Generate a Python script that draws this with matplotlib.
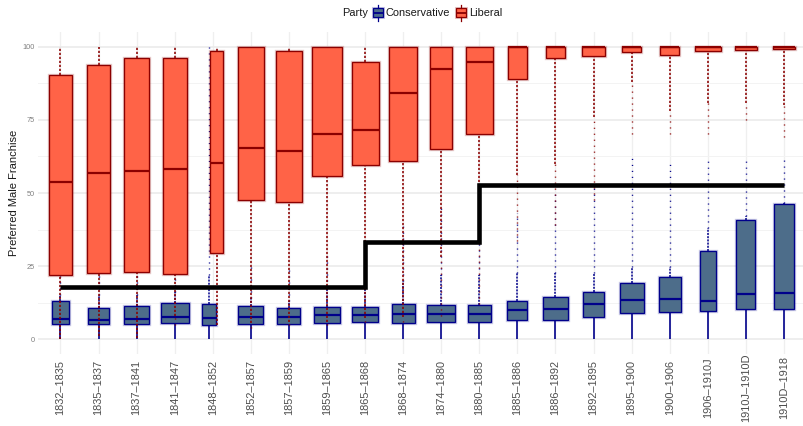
import matplotlib
matplotlib.use('Agg')
import matplotlib.pyplot as plt
import matplotlib.patheffects as pe
from matplotlib.patches import Rectangle
from matplotlib.transforms import ScaledTranslation

plt.rcParams['font.family'] = ['Liberation Sans', 'DejaVu Sans']

periods = ['1832–1835', '1835–1837', '1837–1841', '1841–1847', '1848–1852',
           '1852–1857', '1857–1859', '1859–1865', '1865–1868', '1868–1874',
           '1874–1880', '1880–1885', '1885–1886', '1886–1892', '1892–1895',
           '1895–1900', '1900–1906', '1906–1910J', '1910J–1910D', '1910D–1918']

# Liberal box statistics
lib_q1 = [22.0, 22.5, 23.1, 22.2, 29.6, 47.5, 47.0, 55.8, 59.5, 61.0,
          65.1, 70.1, 88.9, 96.0, 96.7, 98.1, 97.2, 98.4, 98.9, 99.1]
lib_med = [53.9, 56.9, 57.5, 58.1, 60.4, 65.3, 64.5, 70.3, 71.6, 84.1,
           92.4, 94.9, 100, 100, 100, 100, 100, 100, 100, 100]
lib_q3 = [90.3, 93.7, 96.0, 96.0, 98.6, 100, 98.6, 100, 94.8, 100,
          100, 100, 100, 100, 100, 100, 100, 100, 100, 100]
lib_width = [0.596, 0.622, 0.638, 0.630, 0.341, 0.683, 0.675, 0.762, 0.709, 0.727,
             0.586, 0.701, 0.499, 0.517, 0.596, 0.481, 0.491, 0.675, 0.559, 0.586]
# Liberal individual observations: dense and sparse lower extent, max
lib_dense_lo = [0, 1, 0.5, 8, 5, 5.5, 6, 6, 7.4, 7.7,
                28, 40, 56, 60, 76, 88, 78, 80.7, 80.7, 80]
lib_sparse_lo = [0, 1, 0.5, 5, 5, 4, 5, 5, 6, 6,
                 8, 12, 33.7, 39, 47.6, 70, 70, 70, 75, 69]
lib_max = [100] * 20

# Conservative box statistics
con_q1 = [5.1, 5.1, 5.3, 5.5, 4.8, 5.1, 5.1, 5.6, 5.8, 5.6,
          5.9, 5.9, 6.5, 6.7, 7.6, 8.9, 9.3, 9.6, 10.4, 10.5]
con_med = [6.9, 6.7, 7.0, 7.6, 7.3, 7.6, 7.6, 8.4, 8.3, 8.5,
           8.6, 8.5, 10.0, 10.2, 12.2, 13.5, 13.9, 13.2, 15.5, 15.8]
con_q3 = [13.1, 10.7, 11.3, 12.5, 12.1, 11.3, 10.6, 11.0, 11.0, 12.0,
          11.6, 11.6, 13.0, 14.4, 16.3, 19.1, 21.2, 30.1, 40.7, 46.3]
con_width = [0.428, 0.533, 0.638, 0.743, 0.360, 0.649, 0.604, 0.664, 0.664, 0.604,
             0.735, 0.612, 0.525, 0.675, 0.559, 0.630, 0.586, 0.428, 0.499, 0.525]
# Conservative individual observations: min, dense and sparse upper extent
con_min = [0] * 20
con_dense_hi = [15, 15, 15, 16, 22, 14, 13, 18, 18, 20,
                22, 22, 22.6, 22.6, 22.6, 24.7, 24.7, 38, 42, 46.5]
con_sparse_hi = [22, 22, 22, 24, 100, 25, 25, 30, 32, 40,
                 45, 45, 43, 50, 53, 62, 61, 62, 62, 62]

# dodge of the two parties within a period
dodge = [0, 0, 0, 0, 0.1, 0, 0, 0, 0, 0, 0, 0, 0, 0, 0, 0, 0, 0, 0, 0]

# franchise threshold (step line)
threshold = [17.8] * 8 + [33.1] * 3 + [52.7] * 9

LIB_FILL, LIB_EDGE = '#FF6347', '#8B0000'
CON_FILL, CON_EDGE = '#4D6D8A', '#00008B'

W, H = 804, 426
fig = plt.figure(figsize=(W / 100, H / 100), dpi=100)
ax = fig.add_axes([37.6 / W, (H - 353.9) / H, 769.2 / W, 321.8 / H])

n = len(periods)
xs = list(range(n))
lib_pos = [x + d for x, d in zip(xs, dodge)]
con_pos = [x - d for x, d in zip(xs, dodge)]

dense_red = (0, (1.4, 1.1))
sparse_ls = (0, (0.8, 3.5))

# conservative points (under conservative boxes)
ax.vlines(con_pos, con_min, con_q1, colors=CON_EDGE, lw=1.2, zorder=2)
for x, q3, dh, sh in zip(con_pos, con_q3, con_dense_hi, con_sparse_hi):
    if dh > q3:
        ax.vlines(x, q3, dh, colors=CON_EDGE, lw=1.1, linestyles=(0, (1.3, 0.8)), zorder=2)
    top = max(dh, q3)
    if sh > top:
        ax.vlines(x, top, sh, colors=CON_EDGE, lw=1.0, linestyles=sparse_ls, zorder=2)


def draw_boxes(pos, q1, med, q3, widths, fill, edge, z):
    stats = [dict(med=m, q1=a, q3=b, whislo=a, whishi=b) for a, m, b in zip(q1, med, q3)]
    res = ax.bxp(stats, positions=pos, widths=widths, patch_artist=True,
                 showfliers=False, showcaps=False, manage_ticks=False,
                 boxprops=dict(facecolor=fill, edgecolor=edge, linewidth=0.95),
                 whiskerprops=dict(linewidth=0),
                 medianprops=dict(color=edge, linewidth=1.6, solid_capstyle='butt'),
                 zorder=z)
    for b in res['boxes']:
        b.set_path_effects([pe.Stroke(linewidth=2.4, foreground=edge, alpha=0.22), pe.Normal()])
        b.set_zorder(z)
    for m in res['medians']:
        m.set_zorder(z + 0.1)


draw_boxes(con_pos, con_q1, con_med, con_q3, con_width, CON_FILL, CON_EDGE, 3)

# liberal points
for x, q1, q3, dl, sl, mx in zip(lib_pos, lib_q1, lib_q3, lib_dense_lo, lib_sparse_lo, lib_max):
    if mx > q3:
        ax.vlines(x, q3, mx, colors=LIB_EDGE, lw=1.15, linestyles=dense_red, zorder=4)
    ax.vlines(x, dl, q1, colors=LIB_EDGE, lw=1.15, linestyles=dense_red, zorder=4)
    if sl < dl:
        ax.vlines(x, sl, dl, colors=LIB_EDGE, lw=1.0, linestyles=sparse_ls, zorder=4)

draw_boxes(lib_pos, lib_q1, lib_med, lib_q3, lib_width, LIB_FILL, LIB_EDGE, 5)

# threshold step line
ax.plot(xs, threshold, drawstyle='steps-post', color='black', lw=3.3,
        solid_capstyle='butt', solid_joinstyle='miter', zorder=6)

ax.set_xlim(-0.6, n - 1 + 0.6)
ax.set_ylim(-5, 105)
ax.set_xticks(xs)
ax.set_xticklabels(periods, rotation=90, fontsize=7.9, color='#4D4D4D')
offset = ScaledTranslation(4.3 / 100, 0, fig.dpi_scale_trans)
for lab in ax.get_xticklabels():
    lab.set_va('center')
    lab.set_ha('center')
    lab.set_transform(lab.get_transform() + offset)
ax.set_yticks([0, 25, 50, 75, 100])
ax.set_yticks([12.5, 37.5, 62.5, 87.5], minor=True)
ax.set_yticklabels(['0', '25', '50', '75', '100'], fontsize=5.3, color='#7F7F7F')
ax.tick_params(axis='x', length=0, pad=24.5)
ax.tick_params(axis='y', length=0, pad=2.2, which='both')
ax.grid(which='major', axis='y', color='#EBEBEB', lw=1.2, zorder=0)
ax.grid(which='minor', axis='y', color='#F3F3F3', lw=0.7, zorder=0)
ax.grid(which='major', axis='x', color='#EFEFEF', lw=0.9, zorder=0)
ax.set_axisbelow(True)
for s in ax.spines.values():
    s.set_visible(False)

fig.text(14 / W, 1 - 192.5 / H, 'Preferred Male Franchise', rotation=90,
         ha='center', va='center', fontsize=8.0, color='#1A1A1A')

# legend in pixel coordinates
lax = fig.add_axes([0, 0, 1, 1], facecolor='none')
lax.set_xlim(0, W)
lax.set_ylim(H, 0)
lax.axis('off')
lax.text(341.7, 12.8, 'Party', ha='left', va='center', fontsize=7.9, color='#1A1A1A')
for x0, fill, edge, lab in [(372.7, CON_FILL, CON_EDGE, 'Conservative'),
                            (455.7, LIB_FILL, LIB_EDGE, 'Liberal')]:
    xc = x0 + 5.3
    lax.plot([xc, xc], [4.5, 7.8], color=edge, lw=0.9)
    lax.plot([xc, xc], [17.2, 20.5], color=edge, lw=0.9)
    r = Rectangle((x0, 7.8), 10.6, 9.4, facecolor=fill, edgecolor=edge, lw=0.9)
    r.set_path_effects([pe.Stroke(linewidth=2.2, foreground=edge, alpha=0.22), pe.Normal()])
    lax.add_patch(r)
    lax.plot([x0, x0 + 10.6], [12.5, 12.5], color=edge, lw=1.3, solid_capstyle='butt')
    lax.text(x0 + 13.3, 12.8, lab, ha='left', va='center', fontsize=7.9, color='#1A1A1A')

fig.savefig('out.png', dpi=100)
